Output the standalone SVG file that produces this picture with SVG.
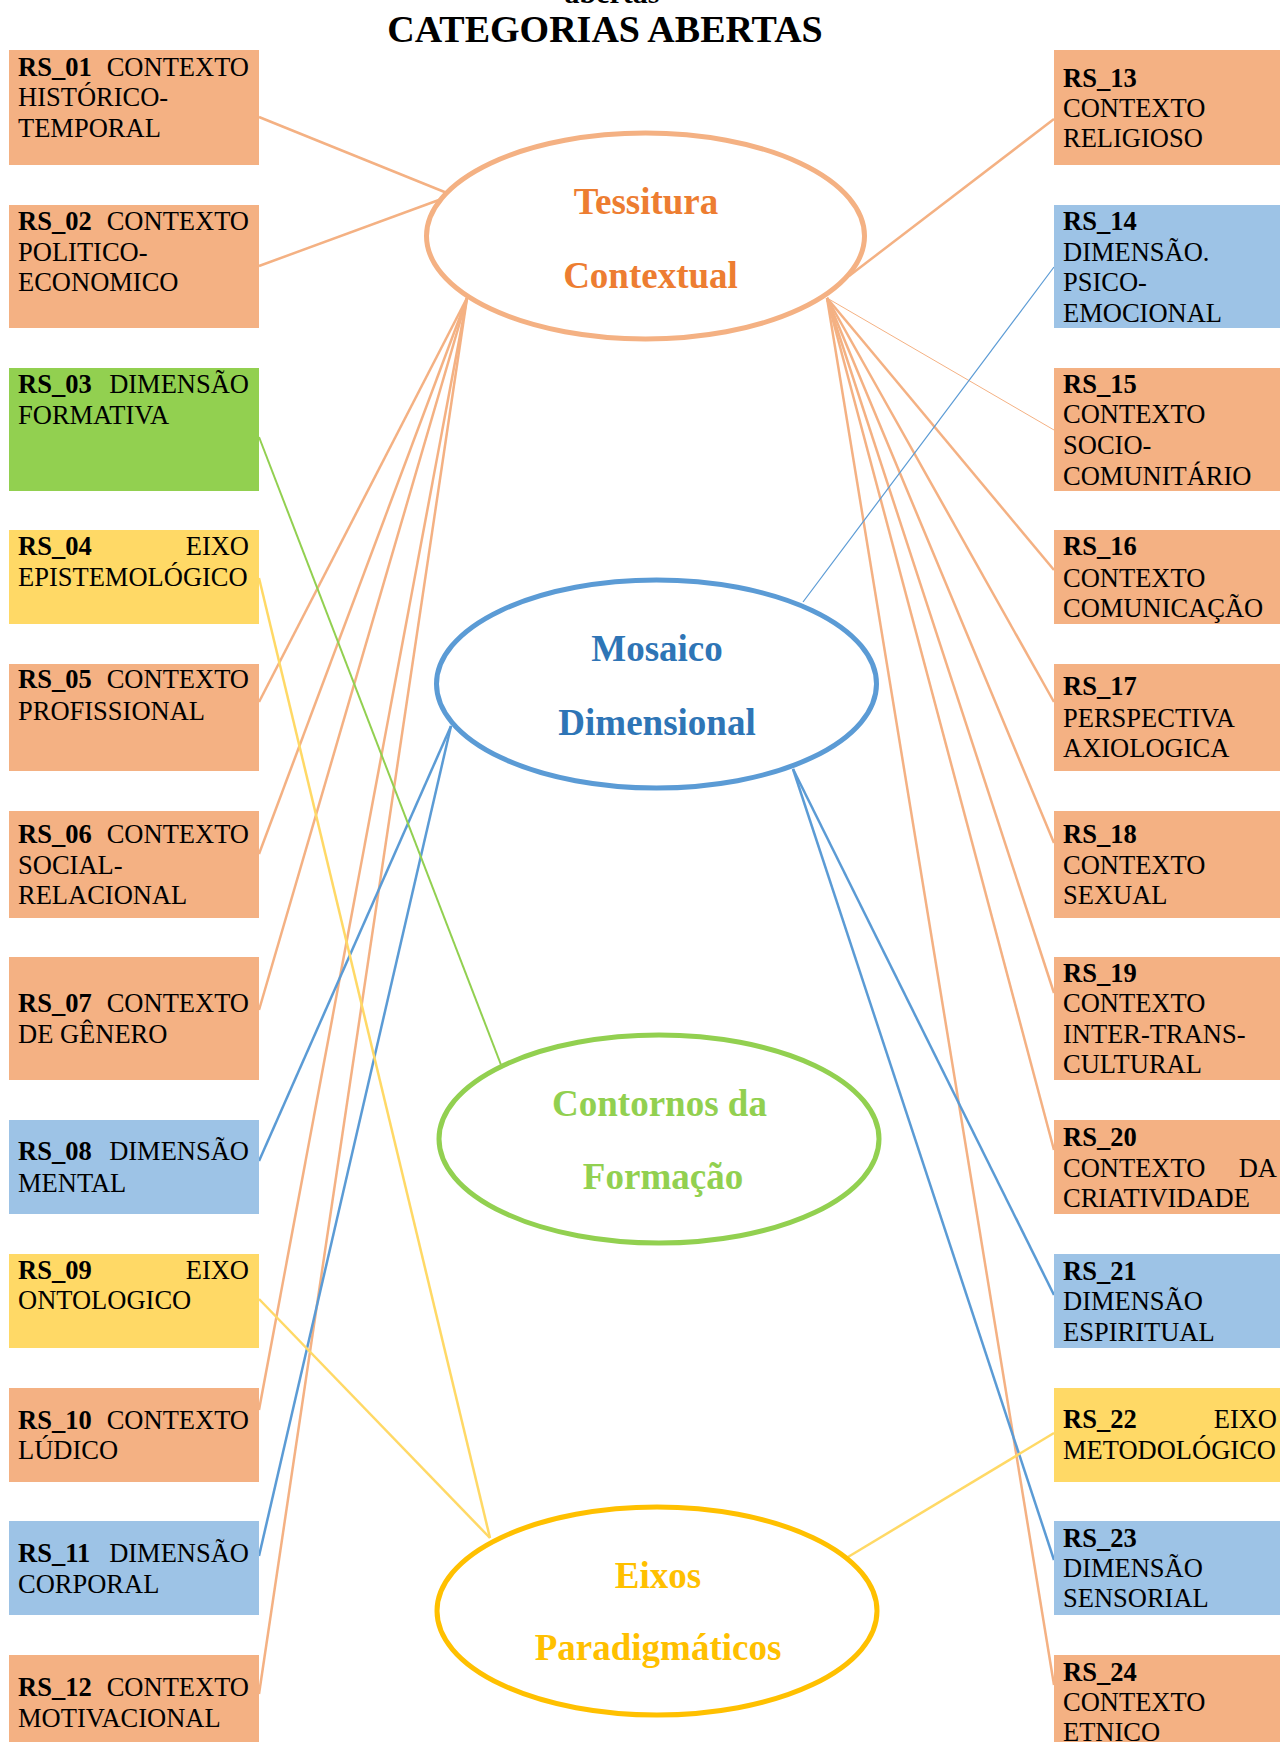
<svg xmlns="http://www.w3.org/2000/svg" width="1280" height="1742" viewBox="0 0 1280 1742">
<style>
text{font-family:"Liberation Serif","Times New Roman",serif}
.t{font-size:26.5px;fill:#000}
.b{font-weight:bold}
.e{text-anchor:end}
.or{fill:#F4B183}
.bl{fill:#9DC3E6}
.gr{fill:#92D050}
.ye{fill:#FFD966}
.c{fill:none;stroke-width:2.5}
.co{stroke:#F4B183}
.cb{stroke:#5B9BD5}
.cg{stroke:#92D050}
.cy{stroke:#FFD966}
.ell{fill:#fff;stroke-width:5}
.et{font-size:37px;font-weight:bold;text-anchor:middle}
</style>
<rect width="1280" height="1742" fill="#fff"/>
<text x="612" y="3" class="b" style="font-size:30px" text-anchor="middle">abertas</text>
<text x="605" y="42" class="b" style="font-size:38px" text-anchor="middle">CATEGORIAS ABERTAS</text>

<g id="connectors">
<line class="c co" x1="259" y1="117" x2="447" y2="193"/>
<line class="c co" x1="259" y1="266" x2="447" y2="197"/>
<line class="c co" x1="259" y1="702" x2="467" y2="298"/>
<line class="c co" x1="259" y1="854" x2="467" y2="298"/>
<line class="c co" x1="259" y1="1010" x2="467" y2="298"/>
<line class="c co" x1="259" y1="1410" x2="467" y2="298"/>
<line class="c co" x1="259" y1="1694" x2="467" y2="298"/>
<line class="c co" x1="1054" y1="119" x2="849" y2="276"/>
<line class="c co" style="stroke-width:1" x1="1054" y1="430" x2="827" y2="298"/>
<line class="c co" x1="1054" y1="570" x2="827" y2="298"/>
<line class="c co" x1="1054" y1="702" x2="827" y2="298"/>
<line class="c co" x1="1054" y1="843" x2="827" y2="298"/>
<line class="c co" x1="1054" y1="993" x2="827" y2="298"/>
<line class="c co" x1="1054" y1="1150" x2="827" y2="298"/>
<line class="c co" x1="1054" y1="1685" x2="827" y2="298"/>
<line class="c cb" x1="259" y1="1161" x2="451" y2="726"/>
<line class="c cb" x1="259" y1="1556" x2="451" y2="726"/>
<line class="c cb" style="stroke-width:1.2" x1="1054" y1="267" x2="803" y2="602"/>
<line class="c cb" x1="1054" y1="1295" x2="793" y2="769"/>
<line class="c cb" x1="1054" y1="1560" x2="793" y2="769"/>
<line class="c cg" style="stroke-width:2" x1="259" y1="437" x2="503" y2="1070"/>
<line class="c cy" x1="259" y1="578" x2="490" y2="1538"/>
<line class="c cy" x1="259" y1="1299" x2="490" y2="1538"/>
<line class="c cy" x1="1054" y1="1433" x2="848" y2="1557"/>
</g>

<g id="tessitura">
<ellipse class="ell" cx="645.5" cy="236" rx="219" ry="103" stroke="#F4B183"/>
<text class="et" x="646" y="214" fill="#ED7D31">Tessitura</text>
<text class="et" x="650.5" y="288" fill="#ED7D31">Contextual</text>
</g>
<g id="mosaico">
<ellipse class="ell" cx="656.5" cy="684" rx="220" ry="104" stroke="#5B9BD5"/>
<text class="et" x="657" y="661" fill="#2E75B6">Mosaico</text>
<text class="et" x="657" y="735" fill="#2E75B6">Dimensional</text>
</g>
<g id="contornos">
<ellipse class="ell" cx="659" cy="1139" rx="220" ry="104" stroke="#92D050"/>
<text class="et" x="659.5" y="1116" fill="#92D050">Contornos da</text>
<text class="et" x="663" y="1189" fill="#92D050">Formação</text>
</g>
<g id="eixos">
<ellipse class="ell" cx="657" cy="1611" rx="220" ry="104" stroke="#FFC000"/>
<text class="et" x="658" y="1588" fill="#FFC000">Eixos</text>
<text class="et" x="658" y="1660" fill="#FFC000">Paradigmáticos</text>
</g>

<g id="rs01"><rect class="or" x="9" y="50" width="250" height="115"/>
<text class="t b" x="18" y="76">RS_01</text><text class="t e" x="249" y="76">CONTEXTO</text>
<text class="t" x="18" y="106">HISTÓRICO-</text><text class="t" x="18" y="137">TEMPORAL</text></g>
<g id="rs02"><rect class="or" x="9" y="205" width="250" height="123"/>
<text class="t b" x="18" y="230">RS_02</text><text class="t e" x="249" y="230">CONTEXTO</text>
<text class="t" x="18" y="261">POLITICO-</text><text class="t" x="18" y="291">ECONOMICO</text></g>
<g id="rs03"><rect class="gr" x="9" y="368" width="250" height="123"/>
<text class="t b" x="18" y="393">RS_03</text><text class="t e" x="249" y="393">DIMENSÃO</text>
<text class="t" x="18" y="424">FORMATIVA</text></g>
<g id="rs04"><rect class="ye" x="9" y="530" width="250" height="94"/>
<text class="t b" x="18" y="555">RS_04</text><text class="t e" x="249" y="555">EIXO</text>
<text class="t" x="18" y="586">EPISTEMOLÓGICO</text></g>
<g id="rs05"><rect class="or" x="9" y="664" width="250" height="107"/>
<text class="t b" x="18" y="688">RS_05</text><text class="t e" x="249" y="688">CONTEXTO</text>
<text class="t" x="18" y="720">PROFISSIONAL</text></g>
<g id="rs06"><rect class="or" x="9" y="811" width="250" height="107"/>
<text class="t b" x="18" y="843">RS_06</text><text class="t e" x="249" y="843">CONTEXTO</text>
<text class="t" x="18" y="874">SOCIAL-</text><text class="t" x="18" y="904">RELACIONAL</text></g>
<g id="rs07"><rect class="or" x="9" y="957" width="250" height="123"/>
<text class="t b" x="18" y="1012">RS_07</text><text class="t e" x="249" y="1012">CONTEXTO</text>
<text class="t" x="18" y="1043">DE GÊNERO</text></g>
<g id="rs08"><rect class="bl" x="9" y="1120" width="250" height="94"/>
<text class="t b" x="18" y="1160">RS_08</text><text class="t e" x="249" y="1160">DIMENSÃO</text>
<text class="t" x="18" y="1192">MENTAL</text></g>
<g id="rs09"><rect class="ye" x="9" y="1254" width="250" height="94"/>
<text class="t b" x="18" y="1279">RS_09</text><text class="t e" x="249" y="1279">EIXO</text>
<text class="t" x="18" y="1309">ONTOLOGICO</text></g>
<g id="rs10"><rect class="or" x="9" y="1388" width="250" height="94"/>
<text class="t b" x="18" y="1429">RS_10</text><text class="t e" x="249" y="1429">CONTEXTO</text>
<text class="t" x="18" y="1459">LÚDICO</text></g>
<g id="rs11"><rect class="bl" x="9" y="1521" width="250" height="94"/>
<text class="t b" x="18" y="1562">RS_11</text><text class="t e" x="249" y="1562">DIMENSÃO</text>
<text class="t" x="18" y="1593">CORPORAL</text></g>
<g id="rs12"><rect class="or" x="9" y="1655" width="250" height="90"/>
<text class="t b" x="18" y="1696">RS_12</text><text class="t e" x="249" y="1696">CONTEXTO</text>
<text class="t" x="18" y="1727">MOTIVACIONAL</text></g>

<g id="rs13"><rect class="or" x="1054" y="50" width="226" height="115"/>
<text class="t b" x="1063" y="87">RS_13</text><text class="t" x="1063" y="117">CONTEXTO</text><text class="t" x="1063" y="147">RELIGIOSO</text></g>
<g id="rs14"><rect class="bl" x="1054" y="205" width="226" height="123"/>
<text class="t b" x="1063" y="230">RS_14</text><text class="t" x="1063" y="261">DIMENSÃO.</text><text class="t" x="1063" y="291">PSICO-</text><text class="t" x="1063" y="322">EMOCIONAL</text></g>
<g id="rs15"><rect class="or" x="1054" y="368" width="226" height="123"/>
<text class="t b" x="1063" y="393">RS_15</text><text class="t" x="1063" y="423">CONTEXTO</text><text class="t" x="1063" y="454">SOCIO-</text><text class="t" x="1063" y="485">COMUNITÁRIO</text></g>
<g id="rs16"><rect class="or" x="1054" y="530" width="226" height="94"/>
<text class="t b" x="1063" y="555">RS_16</text><text class="t" x="1063" y="587">CONTEXTO</text><text class="t" x="1063" y="617">COMUNICAÇÃO</text></g>
<g id="rs17"><rect class="or" x="1054" y="664" width="226" height="107"/>
<text class="t b" x="1063" y="695">RS_17</text><text class="t" x="1063" y="727">PERSPECTIVA</text><text class="t" x="1063" y="757">AXIOLOGICA</text></g>
<g id="rs18"><rect class="or" x="1054" y="811" width="226" height="107"/>
<text class="t b" x="1063" y="843">RS_18</text><text class="t" x="1063" y="874">CONTEXTO</text><text class="t" x="1063" y="904">SEXUAL</text></g>
<g id="rs19"><rect class="or" x="1054" y="957" width="226" height="123"/>
<text class="t b" x="1063" y="982">RS_19</text><text class="t" x="1063" y="1012">CONTEXTO</text><text class="t" x="1063" y="1043">INTER-TRANS-</text><text class="t" x="1063" y="1073">CULTURAL</text></g>
<g id="rs20"><rect class="or" x="1054" y="1120" width="226" height="94"/>
<text class="t b" x="1063" y="1146">RS_20</text><text class="t" x="1063" y="1177">CONTEXTO</text><text class="t e" x="1277" y="1177">DA</text><text class="t" x="1063" y="1207">CRIATIVIDADE</text></g>
<g id="rs21"><rect class="bl" x="1054" y="1254" width="226" height="94"/>
<text class="t b" x="1063" y="1280">RS_21</text><text class="t" x="1063" y="1310">DIMENSÃO</text><text class="t" x="1063" y="1341">ESPIRITUAL</text></g>
<g id="rs22"><rect class="ye" x="1054" y="1388" width="226" height="94"/>
<text class="t b" x="1063" y="1428">RS_22</text><text class="t e" x="1277" y="1428">EIXO</text><text class="t" x="1063" y="1459">METODOLÓGICO</text></g>
<g id="rs23"><rect class="bl" x="1054" y="1521" width="226" height="94"/>
<text class="t b" x="1063" y="1547">RS_23</text><text class="t" x="1063" y="1577">DIMENSÃO</text><text class="t" x="1063" y="1607">SENSORIAL</text></g>
<g id="rs24"><rect class="or" x="1054" y="1655" width="226" height="90"/>
<text class="t b" x="1063" y="1681">RS_24</text><text class="t" x="1063" y="1711">CONTEXTO</text><text class="t" x="1063" y="1741">ETNICO</text></g>
</svg>
